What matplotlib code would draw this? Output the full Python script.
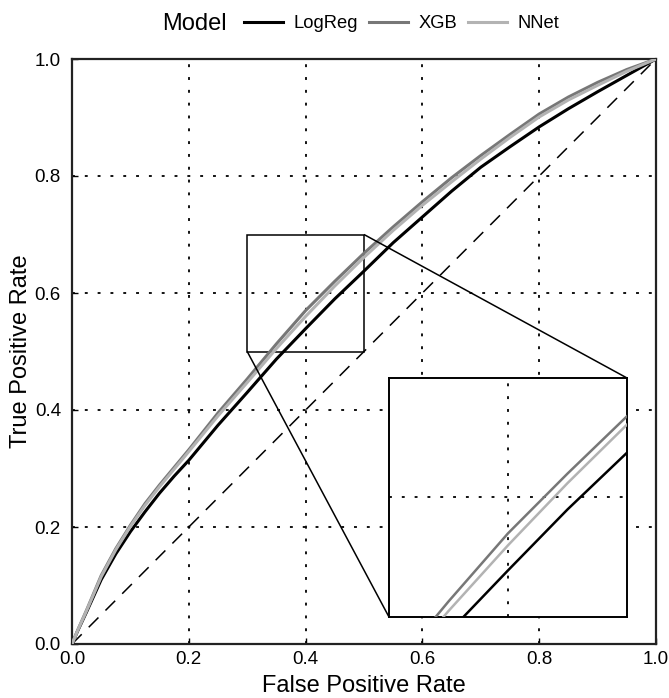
import numpy as np
import matplotlib
matplotlib.use("Agg")
import matplotlib.pyplot as plt
from mpl_toolkits.axes_grid1.inset_locator import mark_inset

###########################################################
# data
###########################################################
fpr = [0.0, 0.01, 0.025, 0.05, 0.075, 0.1, 0.125, 0.15, 0.175, 0.2, 0.25, 0.3, 0.35,
       0.4, 0.45, 0.5, 0.55, 0.6, 0.65, 0.7, 0.75, 0.8, 0.85, 0.9, 0.95, 1.0]
tpr_logreg = [0.0, 0.023, 0.055, 0.11, 0.154, 0.192, 0.226, 0.258, 0.287, 0.314, 0.374, 0.430, 0.487,
              0.539, 0.590, 0.6375, 0.686, 0.730, 0.774, 0.815, 0.850, 0.884, 0.915, 0.944, 0.972, 1.0]
tpr_xgb = [0.0, 0.024, 0.058, 0.117, 0.163, 0.203, 0.240, 0.272, 0.302, 0.332, 0.395, 0.453, 0.513,
           0.570, 0.620, 0.668, 0.713, 0.756, 0.797, 0.835, 0.871, 0.906, 0.935, 0.960, 0.982, 1.0]
tpr_nnet = [0.0, 0.024, 0.057, 0.115, 0.161, 0.201, 0.237, 0.269, 0.299, 0.329, 0.390, 0.447, 0.505,
            0.560, 0.612, 0.661, 0.707, 0.750, 0.790, 0.829, 0.866, 0.901, 0.930, 0.955, 0.979, 1.0]

models = ["LogReg", "XGB", "NNet"]
colors = ["#000000", "#777777", "#b3b3b3"]
ticks = [0.0, 0.2, 0.4, 0.6, 0.8, 1.0]
zoom_x = (0.3, 0.5)
zoom_y = (0.5, 0.7)

plt.rcParams['font.family'] = ['Liberation Sans', 'DejaVu Sans']

fig = plt.figure(figsize=(6.69, 6.98), dpi=100)
ax = fig.add_axes([72/669, 54/698, 584/669, 585/698])

grid_kw = dict(color="black", lw=1.3, linestyle=(0, (1.6, 5.5)))


def draw(a, lw):
    for i, tpr in enumerate([tpr_logreg, tpr_xgb, tpr_nnet]):
        a.plot(fpr, tpr, color=colors[i], lw=lw, label=models[i], zorder=3 + i)
    a.plot([0, 1], [0, 1], color="black", lw=1.1, linestyle=(0, (9, 6.5)), zorder=2)


# main plot
draw(ax, 2.2)
ax.set_xlim(0, 1)
ax.set_ylim(0, 1)
ax.set_xticks(ticks)
ax.set_yticks(ticks)
ax.set_xticklabels(["%.1f" % t for t in ticks])
ax.set_yticklabels(["%.1f" % t for t in ticks])
ax.grid(True, **grid_kw)
ax.tick_params(direction="in", length=4, width=1, labelsize=13.5, pad=5)
ax.tick_params(axis="y", pad=8)
for s in ax.spines.values():
    s.set_linewidth(1.6)
    s.set_color("#222222")
ax.set_xlabel("False Positive Rate", fontsize=17, labelpad=5)
ax.set_ylabel("True Positive Rate", fontsize=17, labelpad=2)

# zoomed inset
axins = ax.inset_axes([(389-72)/584, (644-617)/585, 238/584, 239/585])
draw(axins, 1.8)
axins.set_xlim(*zoom_x)
axins.set_ylim(*zoom_y)
axins.set_xticks([0.4])
axins.set_yticks([0.6])
axins.set_xticklabels([])
axins.set_yticklabels([])
axins.tick_params(length=0)
axins.grid(True, **grid_kw)
axins.set_facecolor("white")
for s in axins.spines.values():
    s.set_linewidth(1.4)
mark_inset(ax, axins, loc1=1, loc2=3, fc="none", ec="black", lw=1.1)

# legend on top
fig.text(162/669, 1 - 24/698, "Model", fontsize=17, ha="left", va="center")
fig.legend(ax.get_lines()[:3], models, loc="center left", bbox_to_anchor=(244/669, 1 - 24/698),
           ncol=3, frameon=False, fontsize=13.2, handlelength=2.1, handletextpad=0.6,
           columnspacing=0.6, borderpad=0, borderaxespad=0)

fig.savefig("out.png", dpi=100)
